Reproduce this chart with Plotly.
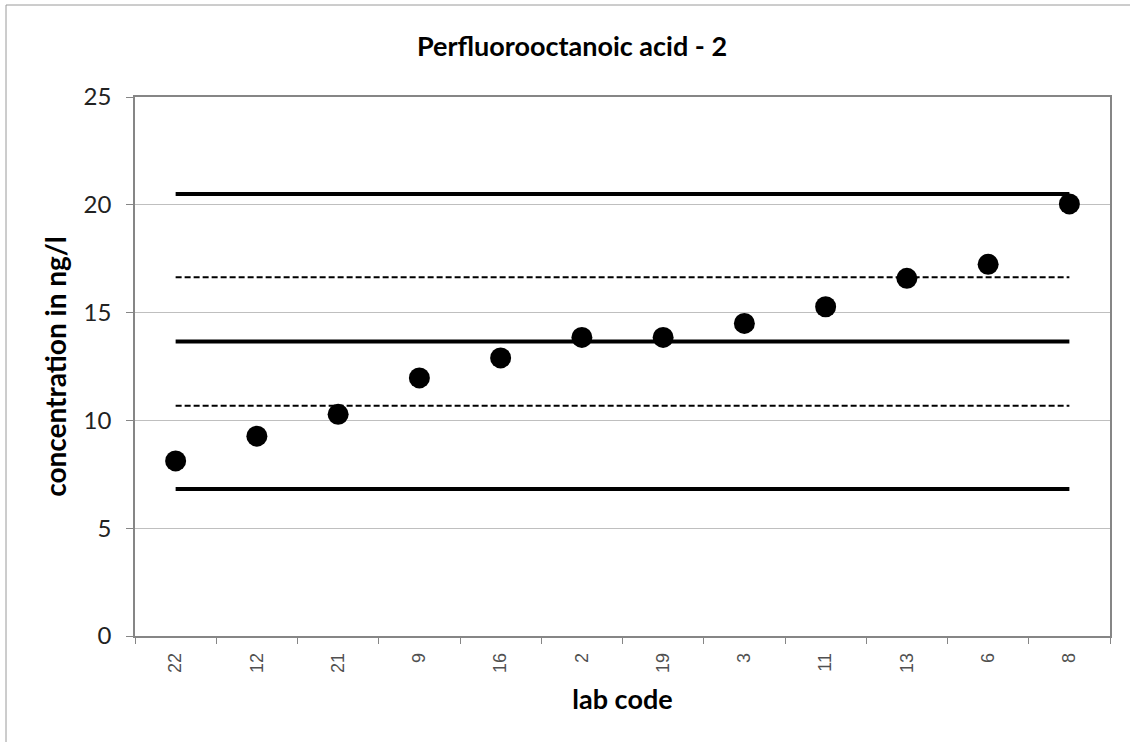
import plotly.graph_objects as go

lab_codes = ["22", "12", "21", "9", "16", "2", "19", "3", "11", "13", "6", "8"]
concentrations = [8.12, 9.27, 10.28, 11.97, 12.9, 13.85, 13.85, 14.5, 15.27, 16.59, 17.24, 20.04]

mean_value = 13.66
upper_limit = 20.5
lower_limit = 6.82
upper_warning = 16.64
lower_warning = 10.68

y_ticks = [0, 5, 10, 15, 20, 25]

L, R, T, B = 135, 20, 97, 106
W, H = 1130, 742
pw, ph = W - L - R, H - T - B

fig = go.Figure()

ends = [lab_codes[0], lab_codes[-1]]
for val, width, dash in [
    (upper_limit, 4, "solid"),
    (mean_value, 4, "solid"),
    (lower_limit, 4, "solid"),
    (upper_warning, 2, "6px,3px"),
    (lower_warning, 2, "6px,3px"),
]:
    fig.add_trace(go.Scatter(
        x=ends, y=[val, val], mode="lines",
        line=dict(color="black", width=width, dash=dash),
        hoverinfo="skip", showlegend=False,
    ))

fig.add_trace(go.Scatter(
    x=lab_codes, y=concentrations, mode="markers",
    marker=dict(color="black", size=21),
    showlegend=False,
))

def px_x(p):
    return (p - L) / pw

def px_y(p):
    return (H - B - p) / ph

# outer chart frame (only left and top edges are visible in the picture)
fig.add_shape(type="line", xref="paper", yref="paper",
              x0=px_x(6), x1=px_x(6), y0=px_y(5), y1=px_y(760),
              line=dict(color="#9a9a9a", width=1), layer="below")
fig.add_shape(type="line", xref="paper", yref="paper",
              x0=px_x(6), x1=px_x(1140), y0=px_y(5), y1=px_y(5),
              line=dict(color="#9a9a9a", width=1), layer="below")

fig.update_layout(
    width=W, height=H,
    margin=dict(l=L, r=R, t=T, b=B),
    paper_bgcolor="white", plot_bgcolor="white",
    title=dict(text="<b>Perfluorooctanoic acid - 2</b>", x=572 / W,
               xanchor="center", y=1 - 47 / H, yanchor="middle",
               font=dict(family="Lato", size=27, color="black")),
    xaxis=dict(
        type="category", categoryorder="array", categoryarray=lab_codes,
        range=[-0.5, len(lab_codes) - 0.5],
        showline=True, linecolor="#868686", linewidth=1.5, mirror=True,
        ticks="outside", ticklen=6, tickcolor="#868686", tickwidth=1,
        tickson="boundaries", showgrid=False,
        tickangle=-90, ticklabelstandoff=8,
        tickfont=dict(family="Liberation Sans", size=18, color="#505050"),
        title=dict(text="<b>lab code</b>", standoff=18,
                   font=dict(family="Lato", size=27, color="black")),
    ),
    yaxis=dict(
        range=[0, 25], tickvals=y_ticks,
        showline=True, linecolor="#868686", linewidth=1.5, mirror=True,
        ticks="outside", ticklen=7, tickcolor="#868686", tickwidth=1,
        showgrid=True, gridcolor="#bfbfbf", gridwidth=1,
        zeroline=False, ticklabelstandoff=10,
        tickfont=dict(family="Lato", size=24, color="#222222"),
        title=dict(text="<b>concentration in ng/l</b>", standoff=9,
                   font=dict(family="Lato", size=28, color="black")),
    ),
)

fig.write_html("out.html", config={"displayModeBar": False},
               post_script="document.body.style.margin='0';")
